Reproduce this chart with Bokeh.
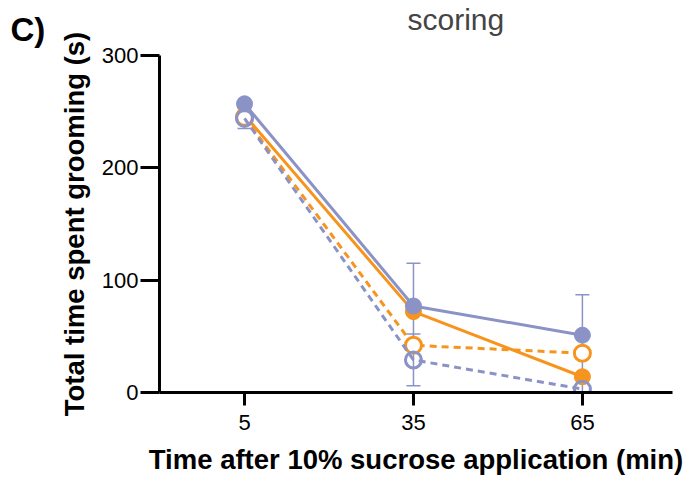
from bokeh.plotting import figure
from bokeh.layouts import row
from bokeh.models import Whisker, ColumnDataSource, FixedTicker, Range1d
from bokeh.embed import file_html
from bokeh.resources import INLINE

# ---- data ----
times = [5, 35, 65]
x_ticks = [5, 35, 65]
y_ticks = [0, 100, 200, 300]

blue_filled = [257, 77, 51]
blue_filled_err = [0, 38, 36]
blue_open = [244, 29, 3]
blue_open_err = [9, 23, 9]
orange_filled = [247, 72, 14]
orange_open = [245, 42, 35]

BLUE = "#8B93C6"
ORANGE = "#F7941D"
FONT = "Liberation Sans"

# narrow left strip carrying the panel letter
q = figure(width=55, height=477, output_backend="svg", toolbar_location=None,
           x_axis_type=None, y_axis_type=None,
           min_border_left=0, min_border_right=0, min_border_top=55, min_border_bottom=0)
q.outline_line_color = None
q.grid.visible = False
q.title.text = "C)"
q.title.align = "left"
q.title.offset = 10
q.title.standoff = 16
q.title.text_font = FONT
q.title.text_font_size = "33px"
q.title.text_font_style = "bold"
q.title.text_color = "black"

p = figure(width=631, height=477, output_backend="svg", toolbar_location=None,
           x_range=Range1d(-10.1, 81), y_range=Range1d(0, 300),
           min_border_left=104, min_border_right=14, min_border_top=55, min_border_bottom=82)
p.outline_line_color = None
p.grid.visible = False

# title (partially cropped text at top of the reference)
p.title.text = "scoring\n"
p.title.align = "left"
p.title.offset = 248
p.title.standoff = 0
p.title.text_line_height = 0.6
p.title.text_font = FONT
p.title.text_font_size = "30px"
p.title.text_font_style = "normal"
p.title.text_color = "#444444"

# orange series (drawn first, behind)
p.line(times, orange_open, line_color=ORANGE, line_width=3, line_dash="7 5")
p.line(times, orange_filled, line_color=ORANGE, line_width=3)
p.scatter(times, orange_filled, size=16, fill_color=ORANGE, line_color=ORANGE, line_width=1)
p.scatter(times, orange_open, size=16, fill_color="white", line_color=ORANGE, line_width=3)

# blue series
bf_lower = [v - e for v, e in zip(blue_filled, blue_filled_err)]
bf_upper = [v + e for v, e in zip(blue_filled, blue_filled_err)]
bo_lower = [v - e for v, e in zip(blue_open, blue_open_err)]
bo_upper = [v + e for v, e in zip(blue_open, blue_open_err)]
src_bf = ColumnDataSource(dict(x=times, lower=bf_lower, upper=bf_upper))
src_bo = ColumnDataSource(dict(x=times, lower=bo_lower, upper=bo_upper))
for src in (src_bf, src_bo):
    w = Whisker(source=src, base="x", lower="lower", upper="upper",
                line_color=BLUE, line_width=1.5)
    w.upper_head.size = 14
    w.lower_head.size = 14
    w.upper_head.line_color = BLUE
    w.lower_head.line_color = BLUE
    w.upper_head.line_width = 1.5
    w.lower_head.line_width = 1.5
    p.add_layout(w)

p.line(times, blue_open, line_color=BLUE, line_width=3, line_dash="7 5")
p.line(times, blue_filled, line_color=BLUE, line_width=3)
p.scatter(times, blue_filled, size=16, fill_color=BLUE, line_color=BLUE, line_width=1)
p.scatter(times, blue_open, size=16, fill_color="white", fill_alpha=0.0, line_color=BLUE, line_width=3)

# axes
p.xaxis.ticker = FixedTicker(ticks=x_ticks)
p.yaxis.ticker = FixedTicker(ticks=y_ticks)
for ax in (p.xaxis[0], p.yaxis[0]):
    ax.axis_line_width = 3
    ax.axis_line_color = "black"
    ax.major_tick_line_width = 3
    ax.major_tick_line_color = "black"
    ax.major_tick_in = 0
    ax.minor_tick_line_color = None
    ax.major_label_text_font = FONT
    ax.major_label_text_font_size = "22px"
    ax.major_label_text_color = "black"
    ax.axis_label_text_font = FONT
    ax.axis_label_text_font_size = "27.5px"
    ax.axis_label_text_font_style = "bold"
    ax.axis_label_text_color = "black"

p.xaxis.major_tick_out = 13
p.xaxis.major_label_standoff = 9
p.xaxis.axis_label = "Time after 10% sucrose application (min)"
p.xaxis.axis_label_standoff = 11
p.yaxis.major_tick_out = 19
p.yaxis.major_label_standoff = 2
p.yaxis.axis_label = "Total time spent grooming (s)"
p.yaxis.axis_label_standoff = 9

layout = row(q, p, spacing=0)
open("out.html", "w").write(file_html(layout, INLINE))
